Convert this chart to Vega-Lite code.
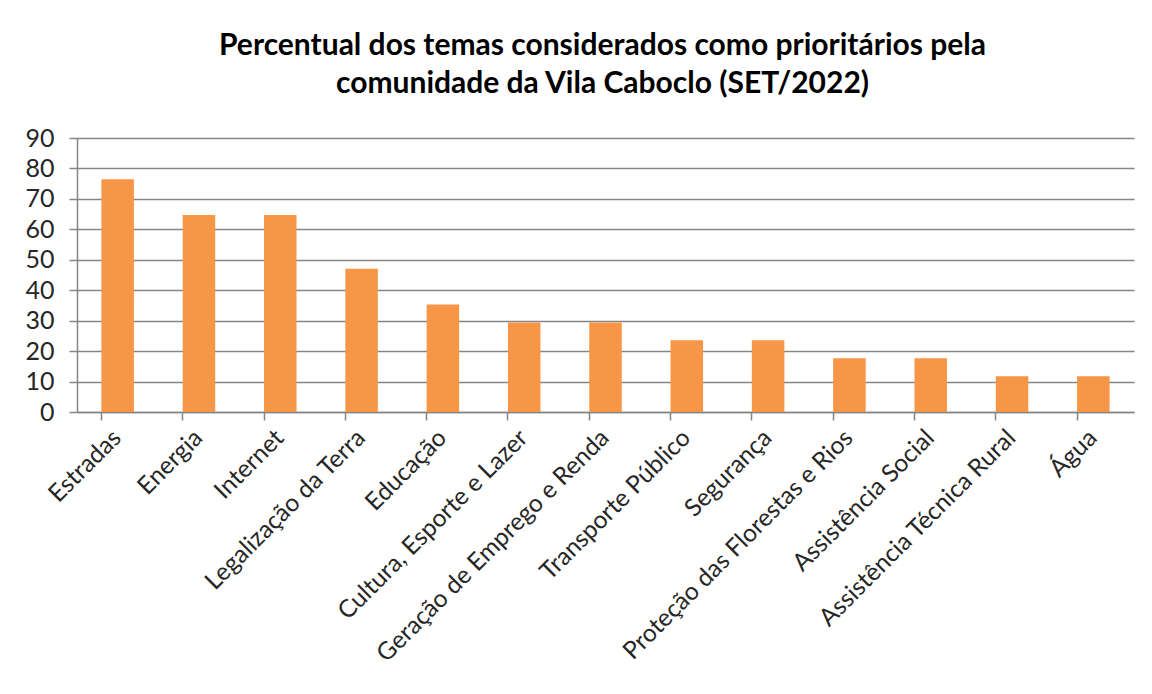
{
  "$schema": "https://vega.github.io/schema/vega-lite/v6.json",
  "autosize": {"type": "none"},
  "width": 1057,
  "height": 274,
  "padding": {"left": 77, "top": 138, "right": 18, "bottom": 282},
  "background": "white",
  "title": {
    "text": ["Percentual dos temas considerados  como prioritários pela", "comunidade  da Vila Caboclo (SET/2022)"],
    "font": "Lato",
    "fontSize": 30,
    "fontWeight": "bold",
    "color": "#000000",
    "lineHeight": 38,
    "anchor": "middle",
    "dx": -3,
    "offset": 27
  },
  "data": {
    "values": [
      {"tema": "Estradas", "valor": 76.47},
      {"tema": "Energia", "valor": 64.71},
      {"tema": "Internet", "valor": 64.71},
      {"tema": "Legalização da Terra", "valor": 47.06},
      {"tema": "Educação", "valor": 35.29},
      {"tema": "Cultura, Esporte e Lazer", "valor": 29.41},
      {"tema": "Geração de Emprego e Renda", "valor": 29.41},
      {"tema": "Transporte Público", "valor": 23.53},
      {"tema": "Segurança", "valor": 23.53},
      {"tema": "Proteção das Florestas e Rios", "valor": 17.65},
      {"tema": "Assistência Social", "valor": 17.65},
      {"tema": "Assistência Técnica Rural", "valor": 11.76},
      {"tema": "Água", "valor": 11.76}
    ]
  },
  "mark": {"type": "bar", "color": "#F79646"},
  "encoding": {
    "x": {
      "field": "tema",
      "type": "nominal",
      "sort": null,
      "scale": {"paddingInner": 0.6, "paddingOuter": 0.3},
      "axis": {
        "title": null,
        "labelAngle": -45,
        "labelAlign": "right",
        "labelBaseline": "middle",
        "labelFont": "Lato",
        "labelFontSize": 24.5,
        "labelColor": "#262626",
        "labelPadding": 14,
        "labelLimit": 0,
        "domainColor": "#868686",
        "domainWidth": 1.5,
        "tickColor": "#868686",
        "tickWidth": 1.5,
        "tickSize": 8,
        "bandPosition": 0,
        "grid": false
      }
    },
    "y": {
      "field": "valor",
      "type": "quantitative",
      "scale": {"domain": [0, 90], "nice": false},
      "axis": {
        "title": null,
        "values": [0, 10, 20, 30, 40, 50, 60, 70, 80, 90],
        "labelFont": "Lato",
        "labelFontSize": 25,
        "labelColor": "#262626",
        "labelPadding": 15,
        "domainColor": "#868686",
        "domainWidth": 1.5,
        "tickColor": "#868686",
        "tickWidth": 1.5,
        "tickSize": 8,
        "grid": true,
        "gridColor": "#868686",
        "gridWidth": 1.5
      }
    }
  },
  "config": {"view": {"stroke": null}}
}
